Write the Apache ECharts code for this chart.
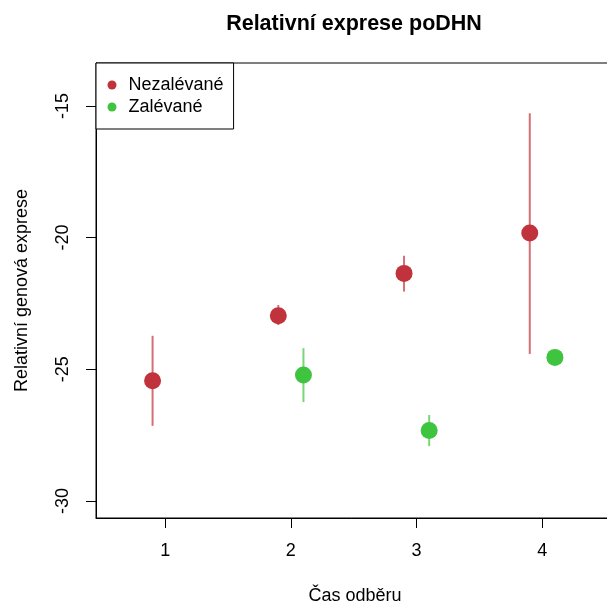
<!DOCTYPE html>
<html>
<head>
<meta charset="utf-8">
<script src="https://cdn.jsdelivr.net/npm/echarts@6/dist/echarts.min.js"></script>
<style>
html,body{margin:0;padding:0;background:#fff;}
#c{width:607px;height:604px;}
</style>
</head>
<body>
<div id="c"></div>
<script>
// Data
var times = [1, 2, 3, 4];
var xTicks = [1, 2, 3, 4];
var yTicks = [-30, -25, -20, -15];
var nezalMean = [-25.44, -22.97, -21.36, -19.83];
var nezalLow  = [-27.15, -23.32, -22.05, -24.42];
var nezalHigh = [-23.73, -22.56, -20.69, -15.28];
var zalMean = [null, -25.22, -27.33, -24.55];
var zalLow  = [null, -26.25, -27.92, null];
var zalHigh = [null, -24.20, -26.74, null];
var offset = 0.1;

var RED = '#c1333c';
var GREEN = '#3fc43f';
var FONT = 'Liberation Sans, Arial, Helvetica, sans-serif';

function pts(mean, dx) {
  var out = [];
  for (var i = 0; i < times.length; i++) {
    if (mean[i] != null) out.push([times[i] + dx, mean[i]]);
  }
  return out;
}
function bars(low, high, dx) {
  var out = [];
  for (var i = 0; i < times.length; i++) {
    if (low[i] != null && high[i] != null) out.push([times[i] + dx, low[i], high[i]]);
  }
  return out;
}
function errRender(color) {
  return function (params, api) {
    var a = api.coord([api.value(0), api.value(1)]);
    var b = api.coord([api.value(0), api.value(2)]);
    return {
      type: 'line',
      shape: { x1: a[0], y1: a[1], x2: b[0], y2: b[1] },
      style: { stroke: color, lineWidth: 2 }
    };
  };
}

var chart = echarts.init(document.getElementById('c'), null, { renderer: 'canvas' });
chart.setOption({
  animation: false,
  backgroundColor: '#fff',
  textStyle: { fontFamily: FONT },
  title: {
    text: 'Relativní exprese poDHN',
    left: 349, top: 8, textAlign: 'center',
    textStyle: { fontFamily: FONT, fontWeight: 'bold', fontSize: 21.5, color: '#000' }
  },
  grid: {
    left: 96, top: 63, right: -7, bottom: 86,
    outerBoundsMode: 'none',
    show: true, borderColor: '#000', borderWidth: 1, backgroundColor: 'transparent',
    containLabel: false
  },
  legend: {
    orient: 'vertical',
    left: 96, top: 63,
    backgroundColor: '#fff',
    borderColor: '#000', borderWidth: 1, borderRadius: 0,
    padding: [13, 10, 13, 11.5],
    itemWidth: 9, itemHeight: 9, itemGap: 4,
    icon: 'circle',
    textStyle: { fontFamily: FONT, fontSize: 18, color: '#000', lineHeight: 18, padding: [0, 0, 0, 7] },
    data: ['Nezalévané', 'Zalévané']
  },
  xAxis: {
    type: 'value', min: 0.45, max: 4.57,
    name: 'Čas odběru', nameLocation: 'middle', nameGap: 69,
    nameTextStyle: { fontFamily: FONT, fontSize: 18, color: '#000' },
    axisLine: { show: true, onZero: false, lineStyle: { color: '#000', width: 1 } },
    axisTick: { show: true, inside: false, length: 10, customValues: xTicks, lineStyle: { color: '#000' } },
    axisLabel: { customValues: xTicks, margin: 24, fontFamily: FONT, fontSize: 18, color: '#000' },
    splitLine: { show: false }
  },
  yAxis: {
    type: 'value', min: -30.65, max: -13.37,
    name: 'Relativní genová exprese', nameLocation: 'middle', nameGap: 65, nameRotate: 90,
    nameTextStyle: { fontFamily: FONT, fontSize: 18, color: '#000' },
    axisLine: { show: true, onZero: false, lineStyle: { color: '#000', width: 1 } },
    axisTick: { show: true, inside: false, length: 10, customValues: yTicks, lineStyle: { color: '#000' } },
    axisLabel: { customValues: yTicks, rotate: 90, margin: 24, fontFamily: FONT, fontSize: 18, color: '#000' },
    splitLine: { show: false }
  },
  series: [
    { name: 'Nezalévané err', type: 'custom', renderItem: errRender('rgba(193,51,60,0.7)'),
      data: bars(nezalLow, nezalHigh, -offset), encode: { x: 0, y: [1, 2] }, z: 1, silent: true },
    { name: 'Zalévané err', type: 'custom', renderItem: errRender('rgba(63,196,63,0.7)'),
      data: bars(zalLow, zalHigh, offset), encode: { x: 0, y: [1, 2] }, z: 1, silent: true },
    { name: 'Nezalévané', type: 'scatter', symbol: 'circle', symbolSize: 17,
      itemStyle: { color: RED, opacity: 1 }, data: pts(nezalMean, -offset), z: 3 },
    { name: 'Zalévané', type: 'scatter', symbol: 'circle', symbolSize: 17,
      itemStyle: { color: GREEN, opacity: 1 }, data: pts(zalMean, offset), z: 3 }
  ]
});
</script>
</body>
</html>
